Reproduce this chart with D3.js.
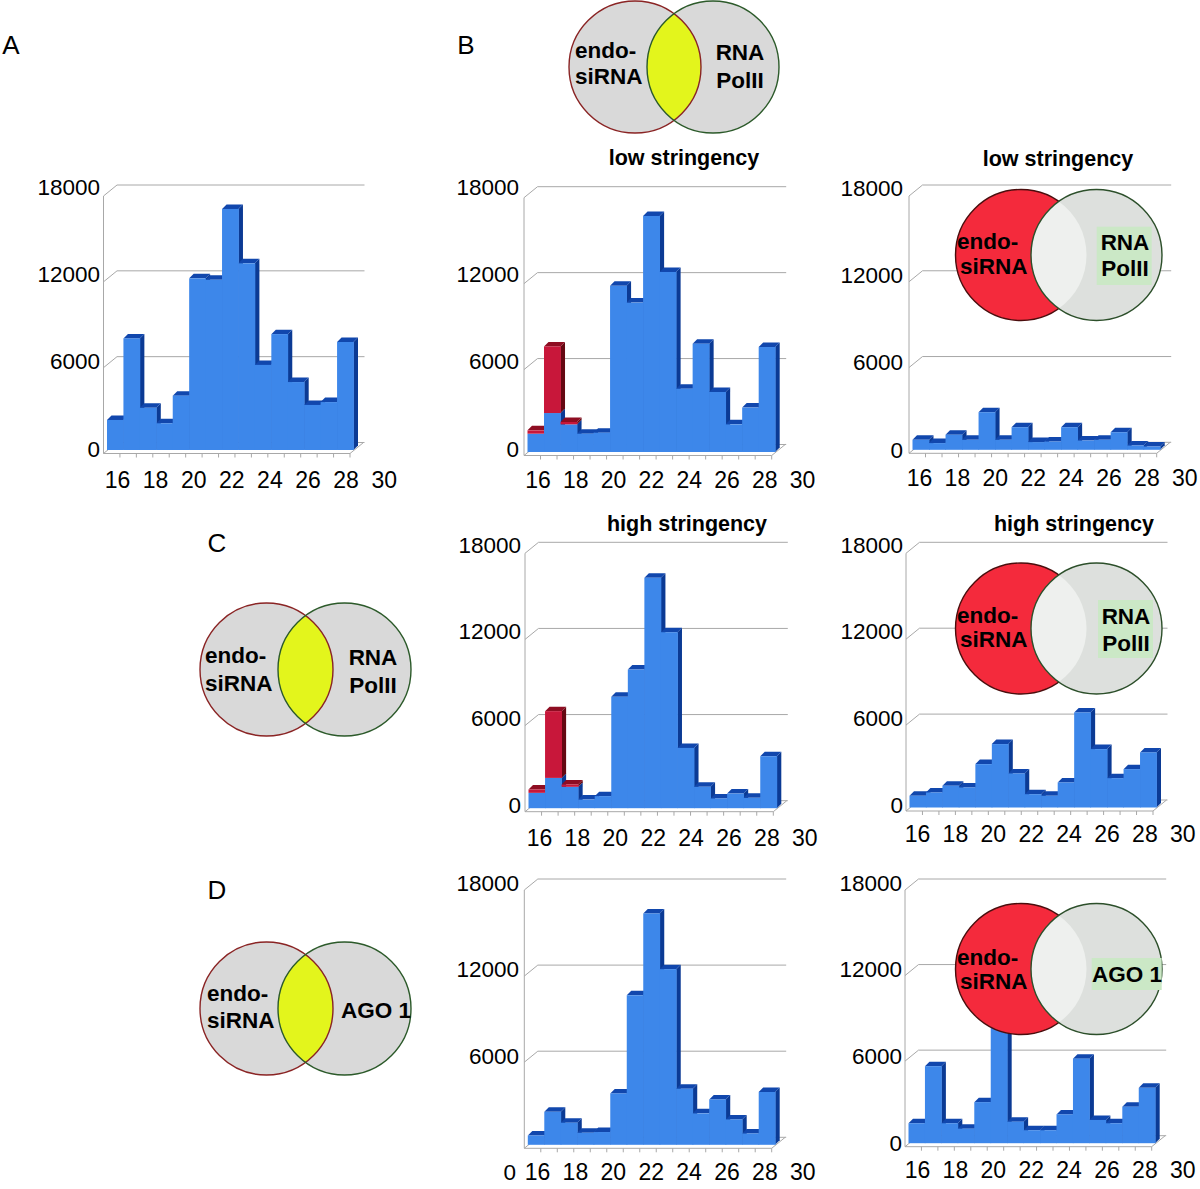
<!DOCTYPE html>
<html>
<head>
<meta charset="utf-8">
<script src="https://cdn.jsdelivr.net/npm/d3@7"></script>
<style>
  html, body { margin: 0; padding: 0; background: #ffffff; }
  svg { display: block; }
  text { font-family: "Liberation Sans", Arial, Helvetica, sans-serif; fill: #000; }
</style>
</head>
<body>
<svg id="fig" width="1200" height="1189"></svg>
<script>
// ---------------- DATA ----------------
const lengths = [16, 17, 18, 19, 20, 21, 22, 23, 24, 25, 26, 27, 28, 29, 30];
const xTickLabels = ["16", "18", "20", "22", "24", "26", "28", "30"];
const yTickValues = [0, 6000, 12000, 18000];
const yTickLabels = ["0", "6000", "12000", "18000"];

// Panel A: all endo-siRNA reads
const panelA = [2100, 7800, 2950, 1870, 3800, 12000, 11900, 16850, 13050, 5950, 8100, 4750, 3150, 3350, 7550];
// B: overlap with RNA PolII, low stringency (blue + red stacked), and non-overlapping
const lowBlue  = [1280, 2720, 1930, 1280, 1350, 11600, 10430, 16480, 12570, 4420, 7560, 4190, 1930, 3100, 7330];
const lowRed   = [230, 4650, 165, 0, 0, 0, 0, 0, 0, 0, 0, 0, 0, 0, 0];
const lowRight = [700, 470, 1050, 700, 2630, 700, 1580, 540, 580, 1580, 650, 700, 1230, 300, 230];
// C: high stringency
const highBlue  = [1070, 2110, 1490, 600, 840, 7760, 9660, 16050, 12260, 4200, 1490, 680, 1020, 720, 3620];
const highRed   = [230, 4650, 160, 0, 0, 0, 0, 0, 0, 0, 0, 0, 0, 0, 0];
const highRight = [820, 1050, 1520, 1400, 3030, 4430, 2380, 930, 820, 1750, 6640, 4080, 2050, 2680, 3850];
// D: AGO 1
const agoMid   = [650, 2300, 1540, 840, 890, 3580, 10420, 16120, 12240, 3910, 2190, 3160, 1770, 790, 3680];
const agoRight = [1400, 5400, 1400, 1020, 2880, 12500, 1510, 910, 910, 2020, 5930, 1630, 1400, 2560, 3880];

const panelLetters = ["A", "B", "C", "D"];
const titles = ["low stringency", "low stringency", "high stringency", "high stringency"];

// ---------------- LAYOUT / STYLE ----------------
const DX = 13.5, DY = -11;   // wall depth offset
const BOFF = 3.5;            // bar placement offset (depth into the floor)
const BD = 4.5;              // bar 3D depth
const GRID = "#a8a8a8";
const BLUE = { front: "#3d87ea", top: "#1147ad", side: "#0b3a94" };
const RED  = { front: "#c8173a", top: "#8e0d22", side: "#650812" };

const charts = [
  { blue: panelA, red: null, ax: 103.5, by: 453.5, w: 246.5, h: 257.5,
    yl0: 449, yl18: 187, ylR: 100, xl0: 117.5, xld: 38.1, xlY: 480 },
  { blue: lowBlue, red: lowRed, ax: 524, by: 455.5, w: 247.7, h: 257.8,
    yl0: 449, yl18: 187, ylR: 519, xl0: 538, xld: 37.8, xlY: 480, title: titles[0], tx: 684, ty: 158 },
  { blue: lowRight, red: null, ax: 909, by: 453.3, w: 247.7, h: 257.3,
    yl0: 450, yl18: 188, ylR: 903, xl0: 919.5, xld: 37.9, xlY: 478, title: titles[1], tx: 1058, ty: 159 },
  { blue: highBlue, red: highRed, ax: 525, by: 811.7, w: 248.3, h: 258.4,
    yl0: 805, yl18: 545, ylR: 521, xl0: 539.5, xld: 37.9, xlY: 838, title: titles[2], tx: 687, ty: 524 },
  { blue: highRight, red: null, ax: 906, by: 811, w: 247, h: 257.7,
    yl0: 805, yl18: 545, ylR: 903, xl0: 917.5, xld: 37.9, xlY: 834, title: titles[3], tx: 1074, ty: 524 },
  { blue: agoMid, red: null, ax: 524.3, by: 1148.3, w: 247.4, h: 258.3,
    yl0: 1142.5, yl18: 883, ylR: 519, xl0: 537.5, xld: 37.9, xlY: 1172, zeroAt: [516, 1172] },
  { blue: agoRight, red: null, ax: 905, by: 1146.7, w: 246.7, h: 256.7,
    yl0: 1143, yl18: 883, ylR: 902, xl0: 917.5, xld: 37.9, xlY: 1170 }
];

const svg = d3.select("#fig");
svg.append("rect").attr("width", 1200).attr("height", 1189).attr("fill", "#fff");

function poly(g, pts, fill) {
  g.append("polygon").attr("points", pts.map(p => p.join(",")).join(" ")).attr("fill", fill);
}

charts.forEach(c => {
  const g = svg.append("g");
  const x = d3.scaleBand().domain(lengths).range([c.ax, c.ax + c.w]).padding(0);
  const y = d3.scaleLinear().domain([0, 18000]).range([c.by, c.by - c.h]);
  const yb = d3.scaleLinear().domain([0, 18000]).range([c.by - BOFF, c.by - BOFF - c.h]);
  const bw = x.bandwidth();

  // back gridlines + diagonals
  yTickValues.forEach(t => {
    g.append("line").attr("x1", c.ax + DX).attr("x2", c.ax + c.w + DX + 1)
      .attr("y1", y(t) + DY).attr("y2", y(t) + DY).attr("stroke", GRID).attr("stroke-width", 1);
    g.append("line").attr("x1", c.ax).attr("y1", y(t)).attr("x2", c.ax + DX).attr("y2", y(t) + DY)
      .attr("stroke", GRID).attr("stroke-width", 1);
  });
  // right floor diagonal
  g.append("line").attr("x1", c.ax + c.w).attr("y1", y(0)).attr("x2", c.ax + c.w + DX).attr("y2", y(0) + DY)
    .attr("stroke", GRID).attr("stroke-width", 1);
  // front axis + baseline
  g.append("line").attr("x1", c.ax).attr("x2", c.ax).attr("y1", y(0)).attr("y2", y(18000))
    .attr("stroke", GRID).attr("stroke-width", 1);
  g.append("line").attr("x1", c.ax).attr("x2", c.ax + c.w).attr("y1", y(0)).attr("y2", y(0))
    .attr("stroke", GRID).attr("stroke-width", 1);
  // x ticks at category boundaries
  lengths.forEach(l => {
    const tx = x(l) + bw;
    g.append("line").attr("x1", tx).attr("x2", tx).attr("y1", y(0)).attr("y2", y(0) + 4)
      .attr("stroke", GRID).attr("stroke-width", 1);
  });

  // bars (left to right so the next front hides the previous side)
  lengths.forEach((l, i) => {
    const b = c.blue[i];
    const r = c.red ? c.red[i] : 0;
    const x0 = x(l) + BOFF, x1 = x0 + bw;
    const base = yb(0), yBlue = yb(b), yTop = yb(b + r);
    // sides
    poly(g, [[x1, base], [x1 + BD, base - BD], [x1 + BD, yBlue - BD], [x1, yBlue]], BLUE.side);
    if (r > 0) poly(g, [[x1, yBlue], [x1 + BD, yBlue - BD], [x1 + BD, yTop - BD], [x1, yTop]], RED.side);
    // top
    poly(g, [[x0, yTop], [x0 + BD, yTop - BD], [x1 + BD, yTop - BD], [x1, yTop]], r > 0 ? RED.top : BLUE.top);
    // fronts
    g.append("rect").attr("x", x0).attr("y", yBlue).attr("width", bw + 0.4).attr("height", base - yBlue)
      .attr("fill", BLUE.front);
    if (r > 0) g.append("rect").attr("x", x0).attr("y", yTop).attr("width", bw + 0.4).attr("height", yBlue - yTop)
      .attr("fill", RED.front);
  });

  // y labels
  const yl = d3.scaleLinear().domain([0, 18000]).range([c.yl0, c.yl18]);
  yTickValues.forEach((t, k) => {
    let tx = c.ylR, ty = yl(t);
    if (t === 0 && c.zeroAt) { tx = c.zeroAt[0]; ty = c.zeroAt[1]; }
    g.append("text").attr("x", tx).attr("y", ty).attr("text-anchor", "end")
      .attr("dominant-baseline", "central").style("font-size", "22.5px").text(yTickLabels[k]);
  });
  // x labels
  xTickLabels.forEach((lab, k) => {
    g.append("text").attr("x", c.xl0 + k * c.xld).attr("y", c.xlY).attr("text-anchor", "middle")
      .attr("dominant-baseline", "central").style("font-size", "23px").text(lab);
  });
  if (c.title) {
    g.append("text").attr("x", c.tx).attr("y", c.ty).attr("text-anchor", "middle")
      .attr("dominant-baseline", "central").style("font-size", "21.5px").style("font-weight", "bold").text(c.title);
  }
});

// ---------------- VENN DIAGRAMS ----------------
function lensPath(x1, x2, cy, r) {
  const mx = (x1 + x2) / 2, hd = (x2 - x1) / 2;
  const hh = Math.sqrt(r * r - hd * hd);
  return `M${mx},${cy - hh} A${r},${r} 0 0 1 ${mx},${cy + hh} A${r},${r} 0 0 1 ${mx},${cy - hh} Z`;
}
function boldText(x, y, s, anchor) {
  svg.append("text").attr("x", x).attr("y", y).attr("text-anchor", anchor || "start")
    .attr("dominant-baseline", "central").style("font-size", "22.5px").style("font-weight", "bold").text(s);
}

// grey/yellow Venns
const overlapVenns = [
  { x1: 635, x2: 713, cy: 67, r: 66, left: [[575, 50, "endo-"], [575, 76, "siRNA"]], right: [[740, 52, "RNA"], [740, 80, "PolII"]] },
  { x1: 266.5, x2: 344.5, cy: 669.5, r: 66.5, left: [[205, 655, "endo-"], [205, 683, "siRNA"]], right: [[373, 657, "RNA"], [373, 685, "PolII"]] },
  { x1: 266.5, x2: 344.5, cy: 1008.5, r: 66.5, left: [[207, 993, "endo-"], [207, 1020, "siRNA"]], right: [[376, 1010, "AGO 1"]] }
];
overlapVenns.forEach(v => {
  svg.append("circle").attr("cx", v.x1).attr("cy", v.cy).attr("r", v.r).attr("fill", "#d9d9d9");
  svg.append("circle").attr("cx", v.x2).attr("cy", v.cy).attr("r", v.r).attr("fill", "#d9d9d9");
  svg.append("path").attr("d", lensPath(v.x1, v.x2, v.cy, v.r)).attr("fill", "#e3f51c");
  svg.append("circle").attr("cx", v.x1).attr("cy", v.cy).attr("r", v.r).attr("fill", "none")
    .attr("stroke", "#8a2424").attr("stroke-width", 1.4);
  svg.append("circle").attr("cx", v.x2).attr("cy", v.cy).attr("r", v.r).attr("fill", "none")
    .attr("stroke", "#2c5a2a").attr("stroke-width", 1.4);
  v.left.forEach(t => boldText(t[0], t[1], t[2]));
  v.right.forEach(t => boldText(t[0], t[1], t[2], "middle"));
});

// red/grey Venns overlaid on right-hand charts
const exclVenns = [
  { x1: 1021, x2: 1096.5, cy: 255, r: 65.5, box: [1096.7, 226.7, 55, 58.3],
    left: [[957, 241.7, "endo-"], [960, 266.7, "siRNA"]], right: [[1125, 242, "RNA"], [1125, 268, "PolII"]] },
  { x1: 1021, x2: 1096.5, cy: 628.5, r: 65.5, box: [1098, 600, 55, 58],
    left: [[957, 615, "endo-"], [960, 639, "siRNA"]], right: [[1126, 616, "RNA"], [1126, 643, "PolII"]] },
  { x1: 1021, x2: 1096.5, cy: 969, r: 65.5, box: [1091.7, 958, 70, 32],
    left: [[957, 957, "endo-"], [960, 981, "siRNA"]], right: [[1127, 974, "AGO 1"]] }
];
exclVenns.forEach(v => {
  svg.append("circle").attr("cx", v.x1).attr("cy", v.cy).attr("r", v.r).attr("fill", "#f42a3c")
    .attr("stroke", "#4a0d0d").attr("stroke-width", 1.4);
  svg.append("circle").attr("cx", v.x2).attr("cy", v.cy).attr("r", v.r).attr("fill", "#dde0dd");
  svg.append("path").attr("d", lensPath(v.x1, v.x2, v.cy, v.r)).attr("fill", "#eef0ee");
  svg.append("circle").attr("cx", v.x2).attr("cy", v.cy).attr("r", v.r).attr("fill", "none")
    .attr("stroke", "#2c4f2a").attr("stroke-width", 1.4);
  svg.append("rect").attr("x", v.box[0]).attr("y", v.box[1]).attr("width", v.box[2]).attr("height", v.box[3])
    .attr("fill", "#cbe8c6");
  v.left.forEach(t => boldText(t[0], t[1], t[2]));
  v.right.forEach(t => boldText(t[0], t[1], t[2], "middle"));
});

// panel letters
const letterPos = [[11, 45], [466, 45], [217, 543], [217, 890]];
panelLetters.forEach((L, i) => {
  svg.append("text").attr("x", letterPos[i][0]).attr("y", letterPos[i][1]).attr("text-anchor", "middle")
    .attr("dominant-baseline", "central").style("font-size", "26px").text(L);
});
</script>
</body>
</html>
